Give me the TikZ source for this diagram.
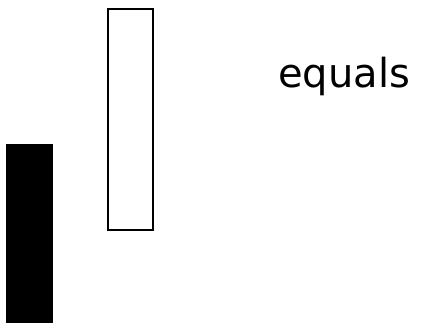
\documentclass[tikz,border=0pt]{standalone}
\usepackage{fontspec}
\setmainfont{DejaVu Sans}
\begin{document}
\begin{tikzpicture}[x=1pt,y=1pt,
  blackbar/.style={fill=black,draw=none},
  whitebar/.style={draw=black,line width=2pt,fill=white},
  label/.style={anchor=base west,inner sep=0pt,font=\fontsize{40}{48}\selectfont}]
\useasboundingbox (0,0) rectangle (440,323);
\fill[white] (0,0) rectangle (440,323);
\path[blackbar] (6,0) rectangle (53,179);
\path[whitebar] (108,93) rectangle (153,314);
\node[label] (eq) at (278,235) {equals};
\end{tikzpicture}
\end{document}
